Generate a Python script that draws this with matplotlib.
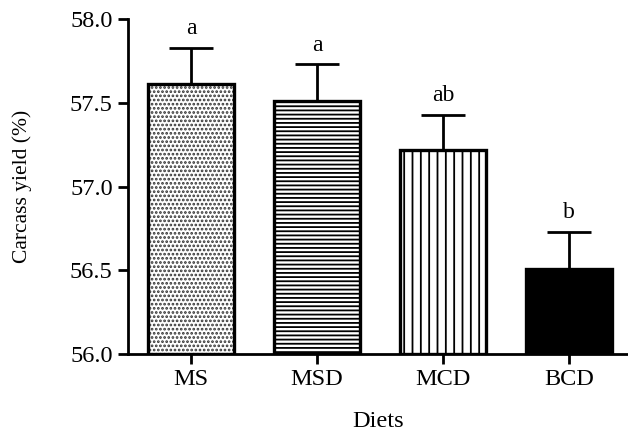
import numpy as np
import matplotlib.pyplot as plt

plt.rcParams['font.family'] = ['Liberation Serif', 'DejaVu Serif']
plt.rcParams['hatch.linewidth'] = 1.3

diets = ['MS', 'MSD', 'MCD', 'BCD']
carcass_yield = [57.61, 57.51, 57.22, 56.51]
sem = [0.22, 0.22, 0.21, 0.22]
letters = ['a', 'a', 'ab', 'b']
hatches = ['....', '----', '||', '']
hatch_colors = ['#333333', 'black', 'black', 'black']
faint = ['', '|', '-', '']
fills = ['white', 'white', 'white', 'black']

fig = plt.figure(figsize=(6.28, 4.36), dpi=100)
ax = fig.add_axes([0.2038, 0.188, 0.7962, 0.768])

x = np.arange(len(diets))
w = 0.675

# bars with their fill patterns, faint cross lines in the striped ones
for i in range(len(diets)):
    if faint[i]:
        ax.bar(x[i], carcass_yield[i] - 56.0, w, bottom=56.0, color='none',
               edgecolor='#c4c4c4', linewidth=0, hatch=faint[i], zorder=1)
    ax.bar(x[i], carcass_yield[i] - 56.0, w, bottom=56.0, color=fills[i],
           edgecolor=hatch_colors[i], linewidth=0, hatch=hatches[i] or None,
           zorder=2)

# outlines drawn on top
ax.bar(x, np.array(carcass_yield) - 56.0, w, bottom=56.0, fill=False,
       edgecolor='black', linewidth=2.4, zorder=3)

ax.errorbar(x, carcass_yield, yerr=[np.zeros(len(sem)), sem], fmt='none',
            ecolor='black', elinewidth=2.0, capsize=16, capthick=2.0, zorder=2)

for i in range(len(diets)):
    ax.annotate(letters[i], (x[i], carcass_yield[i] + sem[i]),
                xytext=(0, 6), textcoords='offset points',
                ha='center', va='bottom', fontsize=17)

ax.set_ylim(56.0, 58.0)
ax.set_xlim(-0.5, 3.468)
ax.set_yticks([56.0, 56.5, 57.0, 57.5, 58.0])
ax.set_yticklabels(['56.0', '56.5', '57.0', '57.5', '58.0'])
ax.set_xticks(x)
ax.set_xticklabels(diets)

ax.spines['top'].set_visible(False)
ax.spines['right'].set_visible(False)
for s in ['left', 'bottom']:
    ax.spines[s].set_linewidth(2.0)
ax.tick_params(axis='both', labelsize=17.5, width=2.0, length=7, pad=4)

ax.set_ylabel('Carcass yield (%)', fontsize=15.5, labelpad=27)
ax.set_xlabel('Diets', fontsize=17.5, labelpad=15)

fig.savefig('out.png', dpi=100)
